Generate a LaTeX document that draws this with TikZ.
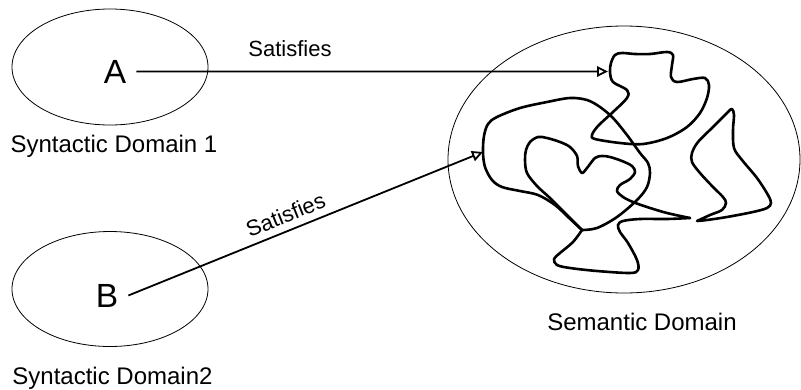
\documentclass[tikz,border=0pt]{standalone}
\usepackage{fontspec}
\setmainfont{Liberation Sans}
\usetikzlibrary{shapes.geometric,arrows.meta}
\begin{document}
\begin{tikzpicture}[x=1pt,y=-1pt,
  dom/.style={draw, ellipse, line width=0.8pt, inner sep=0pt},
  lbl/.style={font=\fontsize{24}{28}\selectfont, anchor=base, inner sep=0pt},
  sat/.style={font=\fontsize{22}{26}\selectfont, inner sep=0pt},
  letter/.style={font=\fontsize{33.5}{38}\selectfont, anchor=base, inner ysep=0pt, inner xsep=10pt},
  arr/.style={line width=1.8pt, -{Triangle[open,length=11pt,width=10.5pt]}},
  squig/.style={line width=2.6pt, line join=round, line cap=round}]
\useasboundingbox (0,0) rectangle (801,389);

% domains
\node[dom, minimum width=196pt, minimum height=116pt] (dom1) at (110,67) {};
\node[dom, minimum width=196pt, minimum height=115pt] (dom2) at (110,289) {};
\node[dom, minimum width=352pt, minimum height=267pt] (sem) at (624,159.5) {};

% letters and labels
\node[letter] (A) at (115,83) {A};
\node[letter] (B) at (107,307) {B};
\node[lbl] (l1) at (114,152) {Syntactic Domain 1};
\node[lbl] (l2) at (112.5,384) {Syntactic Domain2};
\node[lbl] (l3) at (642,330) {Semantic Domain};
\node[sat, anchor=base] (s1) at (290,56) {Satisfies};

% arrow end points on the curve
\coordinate (tipA) at (608,71.5);
\coordinate (tipB) at (483,152);

\draw[arr] (A.east) -- (tipA);
\draw[arr] (B.east) -- node[sat, sloped, above=7pt, pos=0.46] (s2) {Satisfies} (tipB);

% squiggles
\draw[squig] plot[smooth cycle, tension=0.55] coordinates {
 (610,72) (611,63) (615,55) (622,53) (635,54) (650,54) (667,52) (673,55)
 (672,65) (671,77) (677,82) (693,79) (705,78) (709,85) (707,98) (700,113)
 (687,127) (667,138) (643,144) (620,143) (595,139) (592,135) (598,126)
 (613,112) (627,98) (627,90) (613,82)};

\draw[squig] plot[smooth, tension=0.55] coordinates {
 (690,218) (667,213) (647,207) (633,202) (623,197) (617,191) (620,185)
 (630,179) (635,172) (632,166) (622,161) (610,157) (602,156) (595,158)
 (587,168) (582,173) (578,166) (577,156) (570,147) (560,142) (547,138)
 (538,137) (530,142) (526,150) (525,160) (527,173) (537,186) (550,198)
 (565,213) (582,230)};

\draw[squig] plot[smooth, tension=0.55] coordinates {
 (582,230) (597,228) (617,217) (637,200) (647,187) (650,173) (648,163)
 (640,153) (627,135) (613,118) (600,107) (587,100) (570,98) (547,102)
 (520,108) (497,117) (488,124) (484,136) (483,152) (485,167) (492,180)
 (502,187) (520,191) (538,195) (555,205) (568,217) (582,230)};

\draw[squig] plot[smooth, tension=0.55] coordinates {
 (582,230) (573,242) (560,253) (554,259) (557,265) (570,268) (597,271)
 (630,273) (638,270) (637,260) (628,243) (620,232) (618,225) (623,221)
 (640,219) (667,219) (690,218)};

\draw[squig] plot[smooth, tension=0.55] coordinates {
 (697,221) (710,215) (722,210) (726,203) (723,197) (713,187) (700,173)
 (692,162) (692,153) (698,142) (713,127) (728,112) (732,109) (734,115)
 (733,130) (734,148) (742,160) (757,178) (768,195) (771,203) (767,208)
 (753,212) (727,217) (707,220) (697,221)};
\end{tikzpicture}
\end{document}
